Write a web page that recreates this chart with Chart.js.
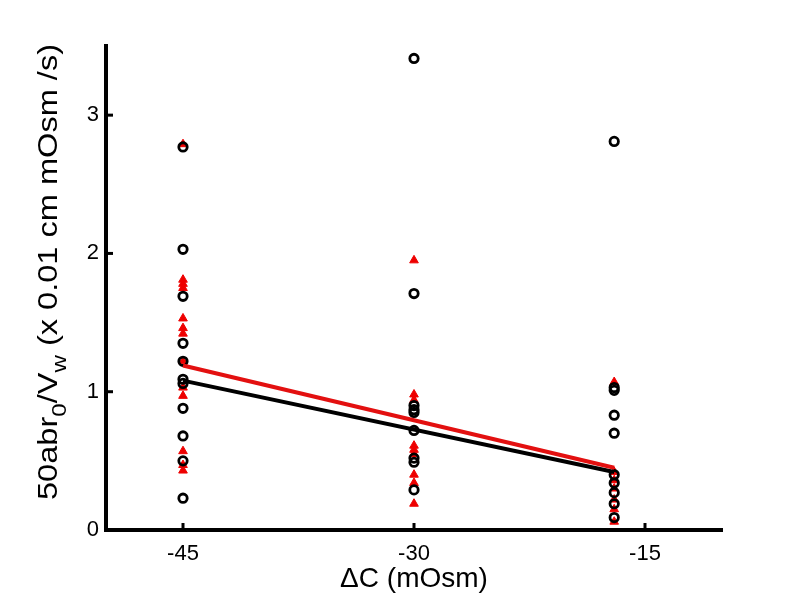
<!DOCTYPE html>
<html>
<head>
<meta charset="utf-8">
<script src="https://cdn.jsdelivr.net/npm/chart.js@4.4.1/dist/chart.umd.min.js"></script>
<style>
  html, body { margin: 0; padding: 0; background: #fff; }
  #wrap { width: 796px; height: 596px; }
</style>
</head>
<body>
<div id="wrap"><canvas id="plot" width="796" height="596"></canvas></div>
<script>
// osmotic step sizes (mOsm)
const steps = [-45, -30, -17];

// black open circles, one list per step
const circles45 = [2.77, 2.03, 1.69, 1.35, 1.22, 1.09, 1.06, 0.88, 0.68, 0.50, 0.23];
const circles30 = [3.41, 1.71, 0.90, 0.87, 0.85, 0.72, 0.52, 0.49, 0.29];
const circles17 = [2.81, 1.03, 1.01, 0.83, 0.70, 0.40, 0.34, 0.27, 0.19, 0.09];

// red triangles, one list per step
const tri45 = [2.79, 1.81, 1.78, 1.75, 1.53, 1.46, 1.42, 1.22, 1.03, 0.97, 0.57, 0.47, 0.43];
const tri30 = [1.95, 0.98, 0.94, 0.61, 0.58, 0.55, 0.40, 0.34, 0.19];
const tri17 = [1.07, 0.42, 0.36, 0.30, 0.22, 0.15, 0.06];

// fitted lines, value at first and last step
const fitBlack = [1.08, 0.42];
const fitRed = [1.19, 0.45];

const xTicks = [-45, -30, -15];
const yTicks = [0, 1, 2, 3];

function pts(x, ys) {
    return ys.map(y => ({x: x, y: y}));
}

const circlePts = [].concat(pts(steps[0], circles45), pts(steps[1], circles30), pts(steps[2], circles17));
const triPts = [].concat(pts(steps[0], tri45), pts(steps[1], tri30), pts(steps[2], tri17));

// inward ticks and the y title with subscripts
const decor = {
    id: 'decor',
    afterDraw(chart) {
        const ctx = chart.ctx;
        const xs = chart.scales.x, ys = chart.scales.y;
        const a = chart.chartArea;
        ctx.save();
        ctx.strokeStyle = '#000';
        ctx.lineWidth = 3;
        xTicks.forEach(v => {
            const px = xs.getPixelForValue(v);
            ctx.beginPath(); ctx.moveTo(px, a.bottom); ctx.lineTo(px, a.bottom - 7); ctx.stroke();
        });
        yTicks.forEach(v => {
            const py = ys.getPixelForValue(v);
            ctx.beginPath(); ctx.moveTo(a.left, py); ctx.lineTo(a.left + 7, py); ctx.stroke();
        });

        // y title (the source figure is stretched vertically, so stretch along the text)
        const big = '27px "Liberation Sans", Arial, sans-serif';
        const small = '20px "Liberation Sans", Arial, sans-serif';
        const parts = [
            ['50abr', big, 0], ['0', small, 9], ['/V', big, 0], ['w', small, 9], [' (x 0.01 cm mOsm /s)', big, 0]
        ];
        let total = 0;
        parts.forEach(p => { ctx.font = p[1]; total += ctx.measureText(p[0]).width; });
        ctx.translate(57, 272);
        ctx.rotate(-Math.PI / 2);
        ctx.scale(456 / total, 1);
        ctx.fillStyle = '#000';
        ctx.textBaseline = 'alphabetic';
        let cx = -total / 2;
        parts.forEach(p => {
            ctx.font = p[1];
            ctx.fillText(p[0], cx, p[2]);
            cx += ctx.measureText(p[0]).width;
        });
        ctx.restore();
    }
};

Chart.defaults.font.family = '"Liberation Sans", Arial, sans-serif';
Chart.defaults.color = '#000';

new Chart(document.getElementById('plot').getContext('2d'), {
    type: 'scatter',
    data: {
        datasets: [
            {
                type: 'line',
                data: [{x: steps[0], y: fitBlack[0]}, {x: steps[2], y: fitBlack[1]}],
                borderColor: '#000',
                borderWidth: 4,
                pointRadius: 0,
                order: 1
            },
            {
                type: 'line',
                data: [{x: steps[0], y: fitRed[0]}, {x: steps[2], y: fitRed[1]}],
                borderColor: '#e31010',
                borderWidth: 4,
                pointRadius: 0,
                order: 0
            },
            {
                data: circlePts,
                pointStyle: 'circle',
                pointRadius: 4.2,
                borderWidth: 2.8,
                borderColor: '#000',
                backgroundColor: 'rgba(0,0,0,0)',
                order: 2
            },
            {
                data: triPts,
                pointStyle: 'triangle',
                pointRadius: 5,
                borderWidth: 1,
                borderColor: '#ee0000',
                backgroundColor: '#ee0000',
                order: 3
            }
        ]
    },
    options: {
        responsive: false,
        animation: false,
        layout: { padding: { left: 0, top: 46, right: 74, bottom: 0 } },
        plugins: { legend: { display: false }, tooltip: { enabled: false } },
        scales: {
            x: {
                type: 'linear',
                min: -50,
                max: -10,
                afterBuildTicks: s => { s.ticks = xTicks.map(v => ({value: v})); },
                afterFit: s => { s.height = 66; },
                grid: { drawOnChartArea: false, drawTicks: false },
                border: { color: '#000', width: 4 },
                ticks: { padding: 11, font: { size: 22 }, color: '#000' },
                title: { display: true, text: 'ΔC (mOsm)', font: { size: 28 }, color: '#000', padding: { top: 0, bottom: 0 } }
            },
            y: {
                min: 0,
                max: 3.5,
                afterBuildTicks: s => { s.ticks = yTicks.map(v => ({value: v})); },
                afterFit: s => { s.width = 106; },
                grid: { drawOnChartArea: false, drawTicks: false },
                border: { color: '#000', width: 4 },
                ticks: { padding: 7, font: { size: 22 }, color: '#000' }
            }
        }
    },
    plugins: [decor]
});
</script>
</body>
</html>
